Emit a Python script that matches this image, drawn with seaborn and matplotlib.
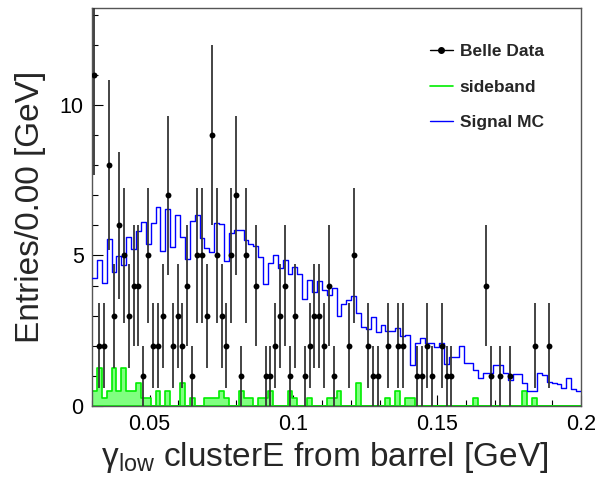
import numpy as np
import pandas as pd
import matplotlib
matplotlib.use("Agg")
import matplotlib.pyplot as plt
import seaborn as sns
from matplotlib.lines import Line2D
from matplotlib.ticker import MultipleLocator, FixedLocator, FixedFormatter

# ---------------- data ----------------
x_min, x_max, n_bins = 0.03, 0.2, 100

data_counts = [
    11, 2, 2, 8, 3, 6, 5, 3, 4, 4,
    1, 5, 2, 2, 3, 7, 2, 3, 2, 4,
    1, 5, 5, 3, 9, 5, 3, 2, 5, 7,
    1, 5, 0, 4, 0, 1, 1, 2, 3, 4,
    1, 3, 0, 1, 2, 3, 3, 2, 4, 1,
    0, 0, 2, 5, 0, 0, 2, 1, 1, 0,
    2, 0, 2, 2, 0, 0, 1, 1, 2, 1,
    0, 2, 1, 1, 0, 0, 0, 0, 0, 0,
    4, 1, 0, 1, 0, 1, 0, 0, 0, 0,
    2, 0, 0, 2, 0, 0, 0, 0, 0, 0,
]

signal_mc = [
    4.26, 4.85, 4.07, 5.55, 4.46, 4.99, 4.68, 5.60, 5.20, 5.81,
    6.12, 5.39, 6.09, 6.61, 5.15, 6.53, 5.28, 6.35, 5.60, 4.89,
    6.16, 6.36, 5.57, 5.24, 5.10, 6.07, 6.05, 4.80, 5.74, 5.85,
    5.85, 5.50, 5.37, 5.33, 4.96, 4.05, 4.75, 5.03, 4.60, 4.86,
    4.38, 4.63, 4.38, 3.56, 4.19, 3.80, 4.14, 3.84, 3.69, 3.92,
    3.00, 3.38, 3.52, 3.65, 3.10, 2.62, 2.56, 2.97, 2.45, 2.70,
    2.50, 2.48, 2.58, 2.33, 2.36, 1.36, 2.10, 2.25, 2.08, 2.08,
    1.95, 2.08, 1.40, 1.64, 1.64, 1.99, 1.44, 1.42, 1.20, 0.92,
    1.11, 1.09, 1.36, 1.36, 1.11, 0.86, 1.06, 1.06, 0.78, 0.51,
    0.51, 1.11, 1.03, 0.81, 0.75, 0.73, 0.59, 0.94, 0.55, 0.51,
]

sideband = [
    0.50, 1.25, 0.25, 0.50, 1.25, 0.50, 1.25, 0.50, 0.50, 0.75,
    0.25, 0.25, 0.00, 0.50, 0.00, 0.50, 0.00, 0.00, 0.75, 0.00,
    0.25, 0.00, 0.00, 0.25, 0.25, 0.25, 0.50, 0.25, 0.00, 0.00,
    0.50, 0.25, 0.25, 0.00, 0.25, 0.25, 0.50, 0.00, 0.00, 0.00,
    0.50, 0.25, 0.00, 0.00, 0.25, 0.00, 0.00, 0.00, 0.25, 0.25,
    0.50, 0.00, 0.00, 0.00, 0.75, 0.00, 0.00, 0.00, 0.00, 0.00,
    0.25, 0.00, 0.50, 0.00, 0.25, 0.25, 0.00, 0.00, 0.00, 0.00,
    0.00, 0.00, 0.00, 0.00, 0.00, 0.00, 0.00, 0.00, 0.25, 0.00,
    0.00, 0.00, 0.00, 0.00, 0.00, 0.00, 0.00, 0.00, 0.50, 0.00,
    0.25, 0.00, 0.00, 0.00, 0.00, 0.00, 0.00, 0.00, 0.00, 0.00,
]

xticks = [0.05, 0.1, 0.15, 0.2]
xtick_labels = ["0.05", "0.1", "0.15", "0.2"]
yticks = [0, 5, 10]
ytick_labels = ["0", "5", "10"]

legend_labels = ["Belle Data", "sideband", "Signal MC"]
x_label = r"$\mathregular{\gamma_{low}}$ clusterE from barrel [GeV]"
y_label = "Entries/0.00 [GeV]"

# ---------------- frame ----------------
edges = np.linspace(x_min, x_max, n_bins + 1)
centers = 0.5 * (edges[:-1] + edges[1:])
df = pd.DataFrame({"x": centers, "data": data_counts, "mc": signal_mc, "sb": sideband})
df["err"] = np.sqrt(df["data"])
pts = df[df["data"] > 0]

sns.set_theme(style="ticks")
plt.rcParams["font.family"] = ["Liberation Sans", "DejaVu Sans"]
plt.rcParams["mathtext.fontset"] = "custom"
plt.rcParams["mathtext.rm"] = "Liberation Sans"
plt.rcParams["mathtext.it"] = "Liberation Sans:italic"

W, H = 598, 482
fig = plt.figure(figsize=(W / 100, H / 100), dpi=100)
ax = fig.add_axes([92 / W, 1 - 406 / H, 489 / W, 398 / H])

SB_EDGE = "#00ee00"
SB_FACE = "#80ff80"
MC_COL = "#0000ff"

sns.histplot(data=df, x="x", weights="sb", bins=n_bins, binrange=(x_min, x_max),
             element="step", fill=True, facecolor=SB_FACE, edgecolor=SB_EDGE,
             linewidth=1.2, ax=ax, zorder=2)
sns.histplot(data=df, x="x", weights="mc", bins=n_bins, binrange=(x_min, x_max),
             element="step", fill=False, color=MC_COL, linewidth=1.0, ax=ax, zorder=3)
ax.errorbar(pts["x"], pts["data"], yerr=pts["err"], fmt="none",
            ecolor="#353535", elinewidth=1.3, capsize=0, zorder=4)
sns.scatterplot(data=pts, x="x", y="data", color="black", s=18,
                edgecolor="black", linewidth=0, ax=ax, zorder=5)

ax.set_xlim(x_min, x_max)
ax.set_ylim(0, 13.22)

ax.xaxis.set_major_locator(FixedLocator(xticks))
ax.xaxis.set_major_formatter(FixedFormatter(xtick_labels))
ax.xaxis.set_minor_locator(MultipleLocator(0.01))
ax.yaxis.set_major_locator(FixedLocator(yticks))
ax.yaxis.set_major_formatter(FixedFormatter(ytick_labels))
ax.yaxis.set_minor_locator(MultipleLocator(1))

ax.tick_params(axis="both", which="both", direction="in", top=False, right=False,
               colors="black", labelsize=15.5, width=0.8)
ax.tick_params(axis="both", which="major", length=8, pad=6)
ax.tick_params(axis="both", which="minor", length=4)
for s in ax.spines.values():
    s.set_color("#555555")
    s.set_linewidth(1.0)

ax.set_xlabel(x_label, fontsize=24, labelpad=2)
ax.xaxis.set_label_coords((325 - 92) / 489, -0.085, transform=ax.transAxes)
ax.xaxis.label.set_verticalalignment("top")
ax.set_ylabel(y_label, fontsize=24, labelpad=10)

handles = [
    Line2D([], [], color="black", marker="o", markersize=4, linewidth=1),
    Line2D([], [], color=SB_EDGE, linewidth=1.2),
    Line2D([], [], color=MC_COL, linewidth=1.0),
]
leg = ax.legend(handles, legend_labels, loc="upper left",
                bbox_to_anchor=((430 - 92) / 489, (406 - 44) / 398),
                frameon=False, prop={"weight": "bold", "size": 12.5},
                handlelength=1.3, handletextpad=0.4, labelspacing=1.18,
                borderpad=0, borderaxespad=0)

fig.savefig("out.png", dpi=100)
